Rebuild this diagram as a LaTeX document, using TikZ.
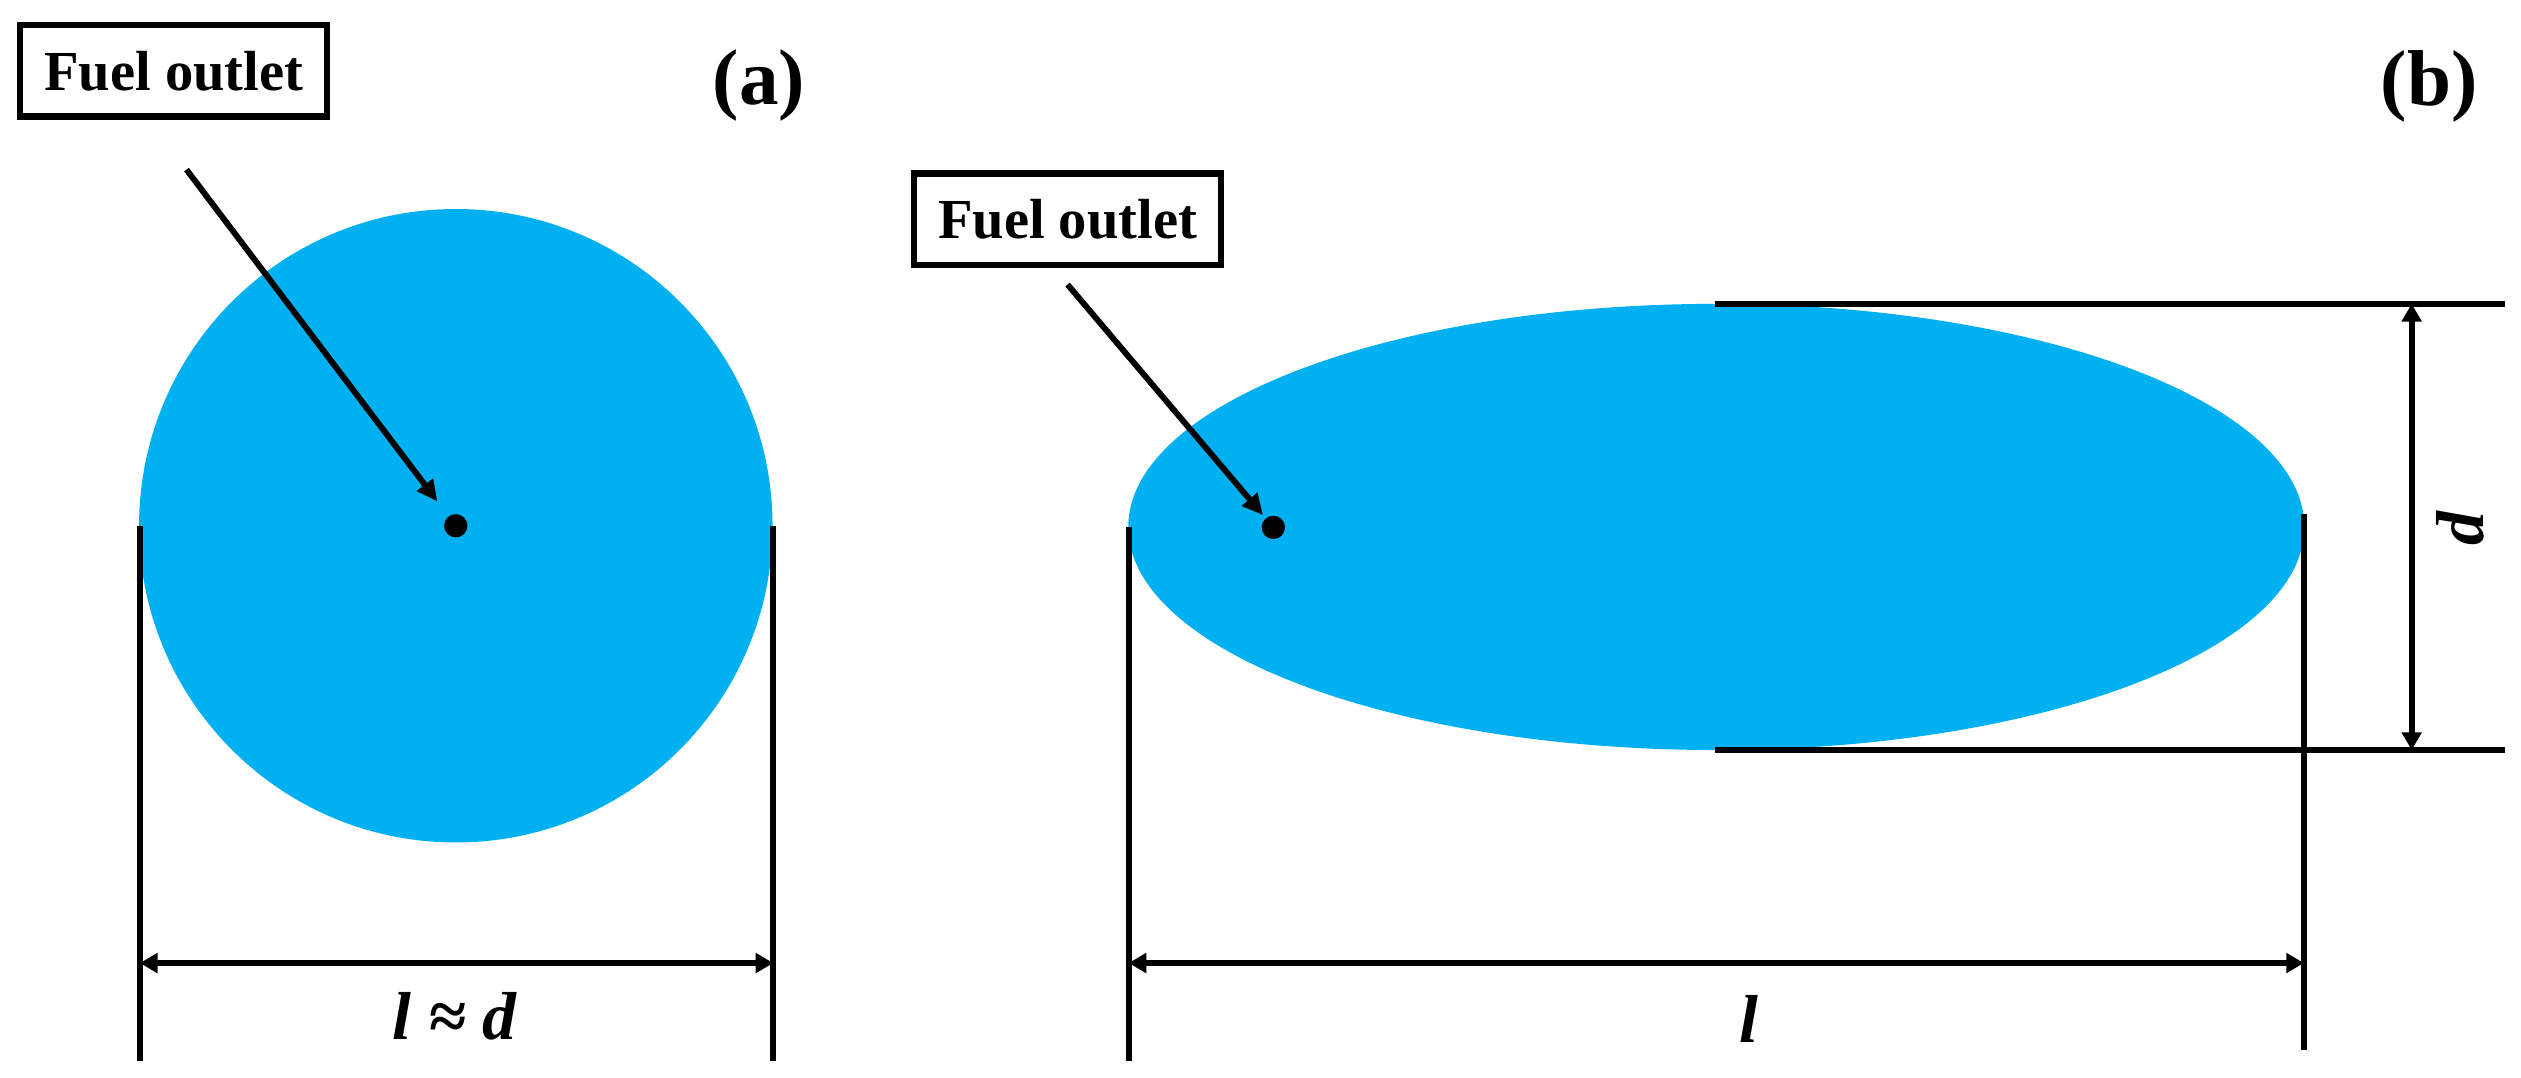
\documentclass[tikz,border=0pt]{standalone}
\usepackage{fontspec}
\setmainfont{Liberation Serif}
\usetikzlibrary{arrows.meta}
\definecolor{dropblue}{HTML}{00B0F0}
\begin{document}
\begin{tikzpicture}[x=0.01cm,y=-0.01cm,
  line/.style={line width=1.05pt},
  tipped/.style={line, -{Triangle[length=1.3mm,width=1.2mm]}},
  dimarrow/.style={line, {Triangle[length=1.1mm,width=1.2mm]}-{Triangle[length=1.1mm,width=1.2mm]}},
  labelbox/.style={draw, line width=1.1pt, minimum width=1.91cm, minimum height=0.57cm, inner sep=0pt, font=\fontsize{10}{12}\selectfont\bfseries},
  panel/.style={font=\fontsize{14}{16}\selectfont\bfseries, inner sep=0pt},
  dimlabel/.style={font=\fontsize{12}{14}\selectfont\bfseries\itshape, inner sep=0pt},
  outlet/.style={circle, fill=black, minimum size=0.145cm, inner sep=0pt}]
\useasboundingbox (0,0) rectangle (1568,670);
% ---------- (a) ----------
\fill[dropblue] (283.5,327) circle[radius=197];
\node[labelbox] (boxA) at (108,44) {Fuel outlet};
\node[panel] (panA) at (472,53) {(a)};
\node[outlet] (dotA) at (283.5,327) {};
\coordinate (startA) at (116,105.5);
\draw[tipped, shorten >=1.1mm] (startA) -- (dotA);
\coordinate (aL1) at (87,327);
\coordinate (aL2) at (87,660);
\coordinate (aR1) at (481,327);
\coordinate (aR2) at (481,660);
\draw[line] (aL1) -- (aL2);
\draw[line] (aR1) -- (aR2);
\coordinate (aD1) at (87,599);
\coordinate (aD2) at (481,599);
\draw[dimarrow] (aD1) -- (aD2);
\node[dimlabel] (labA) at (282.5,632) {l ≈ d};
% ---------- (b) ----------
\fill[dropblue] (1067.5,327.75) ellipse[x radius=365.75, y radius=138.75];
\node[labelbox] (boxB) at (664,136.5) {Fuel outlet};
\node[panel] (panB) at (1511,54) {(b)};
\node[outlet] (dotB) at (792,328) {};
\coordinate (startB) at (664,177);
\draw[tipped, shorten >=0.2mm] (startB) -- (dotB);
\coordinate (bL1) at (702,328);
\coordinate (bL2) at (702,660);
\coordinate (bR1) at (1433,320);
\coordinate (bR2) at (1433,653);
\draw[line] (bL1) -- (bL2);
\draw[line] (bR1) -- (bR2);
\coordinate (bD1) at (702,599);
\coordinate (bD2) at (1433,599);
\draw[dimarrow] (bD1) -- (bD2);
\node[dimlabel] (labB) at (1088,634) {l};
\coordinate (bT1) at (1066.5,189);
\coordinate (bT2) at (1558,189);
\coordinate (bB1) at (1066.5,466.5);
\coordinate (bB2) at (1558,466.5);
\draw[line] (bT1) -- (bT2);
\draw[line] (bB1) -- (bB2);
\coordinate (dD1) at (1500,189);
\coordinate (dD2) at (1500,466.5);
\draw[dimarrow] (dD1) -- (dD2);
\node[dimlabel, rotate=90] (labD) at (1530,328.5) {d};
\end{tikzpicture}
\end{document}
